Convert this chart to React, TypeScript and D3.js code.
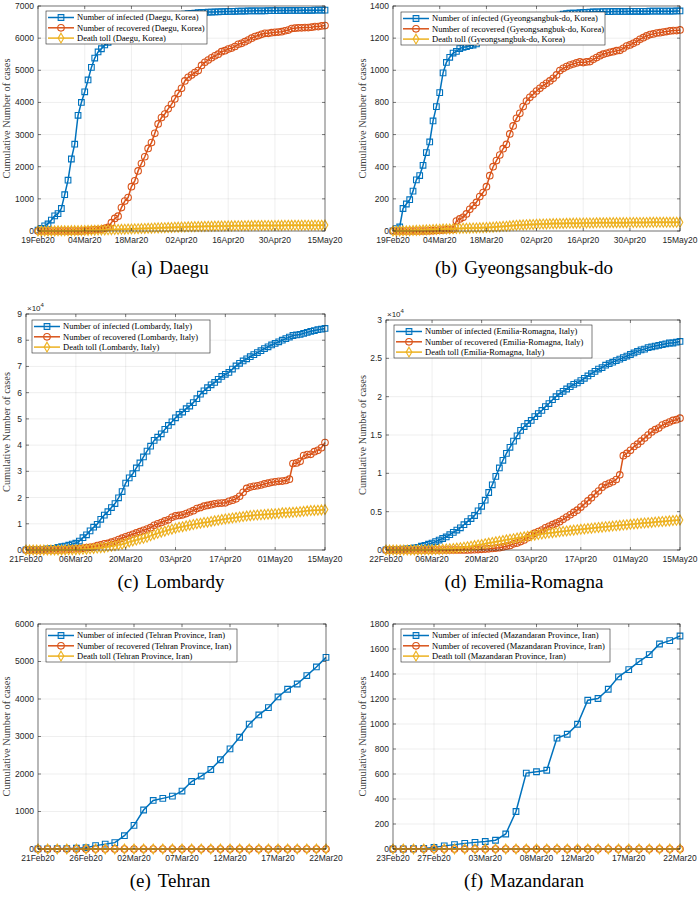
import * as d3 from 'd3';

const W = 700;
const H = 897;
const COLORS = ['#0072BD', '#D95319', '#EDB120'];
const AXIS = '#262626';
const DAY = 86400000;
const parseDay = d3.utcParse('%d%b%y');

// (a) Daegu, Korea
const daeguTicks = ['19Feb20', '04Mar20', '18Mar20', '02Apr20', '16Apr20', '30Apr20', '15May20'];
const daeguYTicks = [0, 1000, 2000, 3000, 4000, 5000, 6000, 7000];
const daeguInfected = [
  30, 80, 160, 220, 340, 470, 540, 700, 1130, 1580,
  2240, 2700, 3600, 4000, 4330, 4700, 5090, 5380, 5570, 5670,
  5790, 5870, 5930, 6030, 6080, 6140, 6240, 6280, 6340, 6390,
  6440, 6480, 6520, 6560, 6590, 6610, 6630, 6650, 6670, 6680,
  6700, 6710, 6730, 6740, 6750, 6760, 6770, 6780, 6790, 6800,
  6800, 6810, 6812, 6816, 6819, 6823, 6827, 6830, 6832, 6835,
  6838, 6842, 6843, 6845, 6847, 6849, 6850, 6851, 6852, 6855,
  6856, 6856, 6857, 6858, 6859, 6861, 6861, 6862, 6863, 6864,
  6865, 6866, 6867, 6868, 6869, 6870, 6871,
];
const daeguRecovered = [
  0, 0, 0, 0, 0, 0, 0, 0, 0, 0,
  0, 0, 0, 0, 10, 20, 30, 40, 45, 50,
  80, 110, 260, 390, 460, 730, 930, 1040, 1380, 1560,
  1870, 2100, 2310, 2570, 2750, 3040, 3330, 3530, 3640, 3800,
  3940, 4110, 4280, 4440, 4670, 4780, 4850, 4930, 4990, 5150,
  5250, 5320, 5390, 5450, 5500, 5580, 5610, 5660, 5690, 5740,
  5810, 5840, 5890, 5940, 6000, 6050, 6080, 6120, 6150, 6150,
  6170, 6180, 6190, 6200, 6230, 6250, 6300, 6310, 6320, 6320,
  6330, 6330, 6340, 6360, 6360, 6380, 6390,
];
const daeguDeaths = [
  0, 0, 0, 1, 2, 4, 6, 8, 10, 10,
  11, 12, 13, 15, 17, 20, 22, 25, 28, 32,
  35, 38, 41, 45, 49, 53, 56, 60, 64, 67,
  71, 75, 79, 84, 88, 93, 97, 101, 104, 108,
  112, 116, 120, 124, 127, 130, 133, 136, 139, 141,
  144, 147, 149, 151, 154, 156, 158, 159, 160, 162,
  163, 165, 166, 167, 168, 169, 170, 171, 172, 172,
  173, 174, 175, 175, 176, 177, 177, 178, 178, 179,
  179, 180, 180, 181, 181, 182, 183,
];

// (b) Gyeongsangbuk-do, Korea
const gbTicks = daeguTicks;
const gbYTicks = [0, 200, 400, 600, 800, 1000, 1200, 1400];
const gbInfected = [
  1, 15, 25, 140, 168, 195, 248, 318, 345, 409,
  488, 554, 685, 774, 861, 984, 1049, 1081, 1107, 1117,
  1135, 1143, 1147, 1153, 1157, 1164, 1178, 1190, 1203, 1224,
  1243, 1254, 1262, 1274, 1283, 1285, 1287, 1298, 1300, 1304,
  1309, 1314, 1317, 1317, 1320, 1323, 1328, 1330, 1332, 1340,
  1343, 1350, 1353, 1355, 1355, 1356, 1358, 1360, 1361, 1362,
  1363, 1364, 1364, 1365, 1365, 1365, 1366, 1366, 1366, 1366,
  1366, 1367, 1367, 1367, 1367, 1367, 1367, 1368, 1368, 1368,
  1368, 1368, 1368, 1368, 1368, 1369, 1369,
];
const gbRecovered = [
  0, 0, 0, 0, 0, 0, 0, 0, 0, 0,
  0, 1, 2, 3, 5, 6, 8, 9, 10, 62,
  75, 85, 106, 135, 157, 178, 214, 239, 276, 344,
  400, 438, 473, 512, 539, 604, 654, 701, 732, 774,
  809, 832, 851, 871, 888, 905, 919, 934, 950, 971,
  998, 1012, 1023, 1033, 1039, 1046, 1052, 1048, 1052, 1054,
  1068, 1079, 1091, 1100, 1106, 1112, 1116, 1122, 1124, 1137,
  1151, 1158, 1168, 1178, 1193, 1203, 1214, 1222, 1226, 1232,
  1234, 1238, 1241, 1245, 1247, 1247, 1251,
];
const gbDeaths = [
  0, 0, 0, 1, 1, 2, 3, 4, 5, 6,
  7, 8, 9, 10, 11, 12, 12, 13, 14, 15,
  16, 17, 17, 18, 19, 19, 20, 21, 22, 23,
  24, 26, 27, 29, 30, 32, 34, 36, 37, 38,
  39, 40, 41, 42, 43, 44, 44, 45, 46, 46,
  47, 47, 48, 48, 49, 49, 49, 50, 50, 50,
  50, 51, 51, 51, 51, 52, 52, 52, 52, 52,
  52, 53, 53, 53, 53, 53, 53, 54, 54, 54,
  54, 54, 54, 54, 54, 54, 54,
];

// (c) Lombardy, Italy
const lomTicks = ['21Feb20', '06Mar20', '20Mar20', '03Apr20', '17Apr20', '01May20', '15May20'];
const lomYTicks = [0, 1, 2, 3, 4, 5, 6, 7, 8, 9];
const lomInfected = [
  20, 50, 100, 170, 240, 260, 400, 530, 620, 980,
  1250, 1520, 1820, 2250, 2610, 3420, 4700, 5800, 7300, 8700,
  9800, 11700, 13300, 14600, 16200, 17700, 19900, 22300, 25500, 27500,
  29100, 31300, 33200, 35500, 37700, 39600, 41800, 43000, 44300, 46000,
  47500, 48900, 50400, 51700, 52600, 53900, 54900, 56200, 57700, 59400,
  60700, 61900, 63000, 63900, 65100, 66200, 67000, 67700, 69000, 70200,
  71200, 72100, 72900, 73700, 74500, 75300, 76000, 76800, 77500, 78200,
  78800, 79400, 80000, 80600, 81200, 81800, 82000, 82200, 82600, 83000,
  83400, 83700, 84000, 84200, 84500,
];
const lomRecovered = [
  0, 0, 0, 0, 0, 0, 0, 0, 40, 40,
  73, 139, 250, 376, 469, 524, 646, 900, 1025, 1198,
  1660, 2011, 2368, 2500, 3000, 3400, 4000, 4500, 5050, 5500,
  6000, 6500, 7000, 7500, 8000, 8500, 9400, 10000, 10500, 11100,
  11500, 12500, 13000, 13200, 13400, 13900, 14500, 15000, 15800, 16200,
  16700, 17000, 17300, 17600, 17800, 17900, 18000, 18600, 19000, 19500,
  20500, 22000, 23500, 24000, 24300, 24500, 24800, 25200, 25500, 25800,
  26000, 26200, 26300, 26500, 27000, 33000, 33200, 33800, 36000, 36400,
  36500, 37500, 38000, 39000, 41000,
];
const lomDeaths = [
  0, 2, 3, 6, 9, 12, 14, 17, 23, 31,
  38, 55, 73, 98, 135, 154, 267, 333, 468, 617,
  744, 890, 966, 1218, 1420, 1640, 1959, 2168, 2549, 3095,
  3456, 3776, 4178, 4474, 4861, 5402, 5944, 6360, 6818, 7199,
  7593, 7960, 8311, 8656, 8905, 9202, 9484, 9722, 10022, 10238,
  10511, 10621, 10901, 11142, 11377, 11608, 11851, 12050, 12213, 12376,
  12579, 12740, 12940, 13106, 13269, 13325, 13449, 13575, 13679, 13772,
  13860, 13938, 14189, 14231, 14294, 14380, 14463, 14611, 14745, 14924,
  15054, 15116, 15185, 15300, 15411,
];

// (d) Emilia-Romagna, Italy
const erTicks = ['22Feb20', '06Mar20', '20Mar20', '03Apr20', '17Apr20', '01May20', '15May20'];
const erYTicks = [0, 0.5, 1, 1.5, 2, 2.5, 3];
const erInfected = [
  20, 20, 30, 50, 80, 100, 150, 200, 280, 350,
  500, 600, 750, 900, 1100, 1300, 1500, 1700, 2000, 2300,
  2600, 2900, 3300, 3700, 4100, 4500, 5100, 5700, 6500, 7500,
  8500, 9600, 10700, 11700, 12600, 13400, 14200, 14900, 15600, 16100,
  16500, 16900, 17400, 17800, 18200, 18700, 19100, 19600, 20000, 20400,
  20700, 21000, 21300, 21600, 21800, 22100, 22400, 22700, 23000, 23300,
  23600, 23800, 24100, 24300, 24500, 24700, 24900, 25100, 25300, 25500,
  25700, 25900, 26100, 26200, 26400, 26500, 26600, 26700, 26800, 26900,
  27000, 27000, 27100, 27200,
];
const erRecovered = [
  0, 0, 0, 0, 0, 0, 0, 0, 0, 0,
  0, 0, 0, 0, 0, 0, 0, 0, 0, 0,
  0, 2, 5, 10, 20, 40, 60, 90, 120, 150,
  200, 250, 300, 400, 500, 600, 800, 900, 1100, 1300,
  1600, 1900, 2200, 2400, 2600, 2900, 3100, 3300, 3500, 3700,
  4000, 4300, 4600, 4900, 5200, 5600, 6000, 6400, 6800, 7300,
  7700, 8200, 8500, 8700, 8900, 9200, 9800, 12300, 12600, 13000,
  13500, 13800, 14200, 14600, 15000, 15400, 15700, 15900, 16300, 16500,
  16700, 16900, 17000, 17200,
];
const erDeaths = [
  0, 0, 1, 1, 2, 3, 5, 8, 11, 16,
  22, 30, 38, 46, 61, 76, 98, 130, 155, 194,
  246, 302, 365, 430, 502, 575, 652, 730, 815, 905,
  985, 1068, 1150, 1232, 1320, 1400, 1480, 1560, 1645, 1720,
  1795, 1870, 1940, 2010, 2075, 2140, 2205, 2265, 2320, 2380,
  2435, 2490, 2540, 2595, 2650, 2700, 2750, 2800, 2845, 2890,
  2940, 2985, 3030, 3075, 3120, 3165, 3215, 3260, 3305, 3350,
  3400, 3440, 3480, 3520, 3560, 3600, 3640, 3680, 3720, 3760,
  3800, 3840, 3880, 3920,
];

// (e) Tehran Province, Iran
const thTicks = ['21Feb20', '26Feb20', '02Mar20', '07Mar20', '12Mar20', '17Mar20', '22Mar20'];
const thYTicks = [0, 1000, 2000, 3000, 4000, 5000, 6000];
const thInfected = [
  5, 5, 8, 12, 20, 35, 90, 130, 170, 355,
  630, 1040, 1295, 1350, 1410, 1545, 1800, 1945, 2120, 2380,
  2670, 2980, 3330, 3575, 3770, 4055, 4260, 4400, 4625, 4855,
  5110,
];
const thRecovered = [
  0, 0, 0, 0, 0, 0, 0, 0, 0, 0,
  0, 0, 0, 0, 0, 0, 0, 0, 0, 0,
  0, 0, 0, 0, 0, 0, 0, 0, 0, 0,
  0,
];
const thDeaths = [
  0, 0, 0, 0, 0, 0, 0, 0, 0, 0,
  0, 0, 0, 0, 0, 0, 0, 0, 0, 0,
  0, 0, 0, 0, 0, 0, 0, 0, 0, 0,
  0,
];

// (f) Mazandaran Province, Iran
const mzTicks = ['23Feb20', '27Feb20', '03Mar20', '08Mar20', '12Mar20', '17Mar20', '22Mar20'];
const mzYTicks = [0, 200, 400, 600, 800, 1000, 1200, 1400, 1600, 1800];
const mzInfected = [
  0, 0, 2, 5, 13, 25, 35, 45, 53, 60,
  70, 120, 300, 607, 618, 630, 887, 918, 998, 1190,
  1204, 1278, 1377, 1435, 1499, 1555, 1640, 1667, 1704,
];
const mzRecovered = [
  0, 0, 0, 0, 0, 0, 0, 0, 0, 0,
  0, 0, 0, 0, 0, 0, 0, 0, 0, 0,
  0, 0, 0, 0, 0, 0, 0, 0, 0,
];
const mzDeaths = [
  0, 0, 0, 0, 0, 0, 0, 0, 0, 0,
  0, 0, 0, 0, 0, 0, 0, 0, 0, 0,
  0, 0, 0, 0, 0, 0, 0, 0, 0,
];

const legendKinds = ['Number of infected', 'Number of recovered', 'Death toll'];

const panels = [
  {
    region: 'Daegu, Korea', tag: '(a)', name: 'Daegu', ticks: daeguTicks, yTicks: daeguYTicks, div: 1,
    series: [daeguInfected, daeguRecovered, daeguDeaths],
    box: { l: 38, r: 325, t: 6, b: 231 }, leg: { dx: 8, dy: 5, w: 161 }, yLabX: 10, capX: 170, capY: 274,
  },
  {
    region: 'Gyeongsangbuk-do, Korea', tag: '(b)', name: 'Gyeongsangbuk-do', ticks: gbTicks, yTicks: gbYTicks, div: 1,
    series: [gbInfected, gbRecovered, gbDeaths],
    box: { l: 393, r: 680, t: 6, b: 231 }, leg: { dx: 8, dy: 6, w: 204 }, yLabX: 366, capX: 524, capY: 274,
  },
  {
    region: 'Lombardy, Italy', tag: '(c)', name: 'Lombardy', ticks: lomTicks, yTicks: lomYTicks, div: 1e4,
    series: [lomInfected, lomRecovered, lomDeaths],
    box: { l: 26, r: 325, t: 314, b: 550 }, leg: { dx: 6, dy: 6, w: 178 }, yLabX: 10, capX: 171, capY: 588,
  },
  {
    region: 'Emilia-Romagna, Italy', tag: '(d)', name: 'Emilia-Romagna', ticks: erTicks, yTicks: erYTicks, div: 1e4,
    series: [erInfected, erRecovered, erDeaths],
    box: { l: 386, r: 680, t: 320, b: 550 }, leg: { dx: 8, dy: 5, w: 198 }, yLabX: 366, capX: 524, capY: 588,
  },
  {
    region: 'Tehran Province, Iran', tag: '(e)', name: 'Tehran', ticks: thTicks, yTicks: thYTicks, div: 1,
    series: [thInfected, thRecovered, thDeaths],
    box: { l: 38, r: 326, t: 624, b: 849 }, leg: { dx: 8, dy: 5, w: 191 }, yLabX: 10, capX: 170, capY: 887,
  },
  {
    region: 'Mazandaran Province, Iran', tag: '(f)', name: 'Mazandaran', ticks: mzTicks, yTicks: mzYTicks, div: 1,
    series: [mzInfected, mzRecovered, mzDeaths],
    box: { l: 393, r: 680, t: 624, b: 849 }, leg: { dx: 8, dy: 5, w: 209 }, yLabX: 366, capX: 524, capY: 887,
  },
];

const symbols = [
  d3.symbol().type(d3.symbolSquare).size(32)(),
  d3.symbol().type(d3.symbolCircle).size(34)(),
  d3.symbol().type(d3.symbolDiamond).size(28)(),
];

const fontAx = "'Liberation Sans', Arial, sans-serif";
const fontSerif = "'Liberation Serif', 'DejaVu Serif', serif";

function Panel({ p }: { p: any }) {
  const { l, r, t, b } = p.box;
  const x0 = parseDay(p.ticks[0])!;
  const x1 = parseDay(p.ticks[p.ticks.length - 1])!;
  const x = d3.scaleUtc().domain([x0, x1]).range([l, r]);
  const yTop = p.yTicks[p.yTicks.length - 1];
  const y = d3.scaleLinear().domain([0, yTop]).range([b, t]);
  const dayX = (i: number) => x(new Date(x0.getTime() + i * DAY));
  const line = d3.line<number>().x((_, i) => dayX(i)).y(v => y(v / p.div));
  const tickLen = 3;
  const lx = l + p.leg.dx;
  const ly = t + p.leg.dy;

  return (
    <g>
      {/* grid */}
      {p.ticks.map((s: string) => {
        const xv = x(parseDay(s)!);
        return <line key={'gx' + s} x1={xv} x2={xv} y1={t} y2={b} stroke={AXIS} strokeOpacity={0.13} strokeWidth={0.6} />;
      })}
      {p.yTicks.map((v: number) => (
        <line key={'gy' + v} x1={l} x2={r} y1={y(v)} y2={y(v)} stroke={AXIS} strokeOpacity={0.13} strokeWidth={0.6} />
      ))}
      {/* series, drawn in order: infected, recovered, death toll */}
      {p.series.map((data: number[], si: number) => (
        <g key={'s' + si}>
          <path d={line(data) || ''} fill="none" stroke={COLORS[si]} strokeWidth={1.5} />
          {data.map((v, i) => (
            <path key={i} d={symbols[si] || ''} transform={`translate(${dayX(i)},${y(v / p.div)})`}
              fill="none" stroke={COLORS[si]} strokeWidth={1.1} />
          ))}
        </g>
      ))}
      {/* box and ticks */}
      <rect x={l} y={t} width={r - l} height={b - t} fill="none" stroke={AXIS} strokeWidth={0.6} />
      {p.ticks.map((s: string) => {
        const xv = x(parseDay(s)!);
        return (
          <g key={'xt' + s}>
            <line x1={xv} x2={xv} y1={b} y2={b - tickLen} stroke={AXIS} strokeWidth={0.6} />
            <line x1={xv} x2={xv} y1={t} y2={t + tickLen} stroke={AXIS} strokeWidth={0.6} />
            <text x={xv} y={b + 12} textAnchor="middle" fontFamily={fontAx} fontSize={8.5} fill={AXIS}>{s}</text>
          </g>
        );
      })}
      {p.yTicks.map((v: number) => (
        <g key={'yt' + v}>
          <line x1={l} x2={l + tickLen} y1={y(v)} y2={y(v)} stroke={AXIS} strokeWidth={0.6} />
          <line x1={r} x2={r - tickLen} y1={y(v)} y2={y(v)} stroke={AXIS} strokeWidth={0.6} />
          <text x={l - 4} y={y(v)} dy="0.35em" textAnchor="end" fontFamily={fontAx} fontSize={8.5} fill={AXIS}>{String(v)}</text>
        </g>
      ))}
      {p.div !== 1 && (
        <text x={l + 1} y={t - 3} fontFamily={fontAx} fontSize={8} fill={AXIS}>
          ×10<tspan dy={-4} fontSize={6}>{Math.round(Math.log10(p.div))}</tspan>
        </text>
      )}
      <text transform={`translate(${p.yLabX},${(t + b) / 2}) rotate(-90)`} textAnchor="middle"
        fontFamily={fontSerif} fontSize={10.3} fill="#404040">Cumulative Number of cases</text>
      {/* legend */}
      <rect x={lx} y={ly} width={p.leg.w} height={33} fill="#fff" stroke={AXIS} strokeWidth={0.6} />
      {legendKinds.map((k, si) => {
        const ry = ly + 6.5 + si * 10.3;
        return (
          <g key={'lg' + si}>
            <line x1={lx + 2} x2={lx + 28} y1={ry} y2={ry} stroke={COLORS[si]} strokeWidth={1.5} />
            <path d={symbols[si] || ''} transform={`translate(${lx + 15},${ry})`} fill="none" stroke={COLORS[si]} strokeWidth={1.1} />
            <text x={lx + 31} y={ry} dy="0.32em" fontFamily={fontSerif} fontSize={8.5} fill="#000">{`${k} (${p.region})`}</text>
          </g>
        );
      })}
      <text x={p.capX} y={p.capY} textAnchor="middle" fontFamily={fontSerif} fontSize={19} fill="#000">
        {p.tag}<tspan dx={7}>{p.name}</tspan>
      </text>
    </g>
  );
}

export default function App() {
  return (
    <svg width={W} height={H} viewBox={`0 0 ${W} ${H}`}
      style={{ position: 'absolute', left: 0, top: 0, background: '#fff' }}>
      <rect width={W} height={H} fill="#fff" />
      {panels.map((p, i) => <Panel key={i} p={p} />)}
    </svg>
  );
}
